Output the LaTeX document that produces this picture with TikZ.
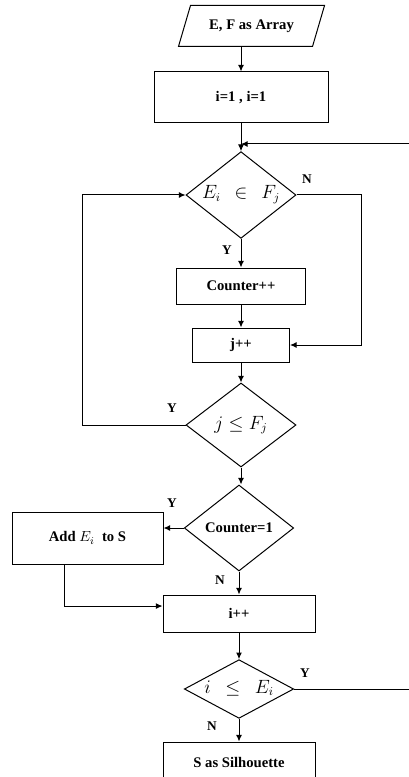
\documentclass[tikz,border=0pt]{standalone}
\usepackage{fontspec}
\setmainfont{Liberation Serif}
\usetikzlibrary{arrows.meta,shapes.geometric,positioning}

\begin{document}
\begin{tikzpicture}[x=0.75pt,y=-0.75pt,>={Latex[length=5pt,width=4.5pt]},line width=0.75pt,
  box/.style={draw,rectangle,inner sep=2pt,font=\fontsize{11}{13}\selectfont\bfseries},
  dec/.style={draw,diamond,inner sep=0pt,text height=8pt,text depth=2pt,font=\fontsize{13.5}{15}\selectfont},
  lbl/.style={inner sep=0pt,font=\fontsize{10}{12}\selectfont\bfseries}]
  \useasboundingbox (0,0) rectangle (409,777);
  \clip (0,0) rectangle (409,777);
  \node[draw,trapezium,trapezium left angle=57,trapezium right angle=123,trapezium stretches=true,minimum width=110pt,minimum height=30.75pt,inner sep=0pt,font=\fontsize{11}{13}\selectfont\bfseries] (input) at (251.5,26) {E, F as Array};
  \node[box,minimum width=130.5pt,minimum height=38.25pt] (init) at (241,97.5) {i=1 , i=1};
  \node[dec,aspect=1.27,minimum width=82.5pt,minimum height=65pt] (d1) at (241,195) {$E_i\;\,\in\;\, F_j$};
  \node[box,minimum width=96.75pt,minimum height=27pt] (cnt) at (241,286) {Counter++};
  \node[box,minimum width=72.75pt,minimum height=25.5pt] (jpp) at (241,345) {j++};
  \node[dec,aspect=1.31,minimum width=82.5pt,minimum height=63pt] (d2) at (241,425) {$j \leq F_j$};
  \node[dec,aspect=1.27,minimum width=82pt,minimum height=64.5pt,font=\fontsize{11}{13}\selectfont\bfseries] (d3) at (239,528) {Counter=1};
  \node[box,minimum width=113.25pt,minimum height=39pt] (add) at (87.5,538) {Add $E_i$~ to S};
  \node[box,minimum width=114pt,minimum height=27.75pt] (ipp) at (239,613.5) {i++};
  \node[dec,aspect=1.86,minimum width=82pt,minimum height=44pt] (d4) at (239,689) {$i\hspace{7pt}\leq\hspace{7pt}E_i$};
  \node[box,minimum width=114pt,minimum height=30pt] (output) at (239,762) {S as Silhouette};
  \node[lbl] (n1) at (307,179) {N};
  \node[lbl] (y1) at (227,250) {Y};
  \node[lbl] (y2) at (172,408) {Y};
  \node[lbl] (y3) at (172,503) {Y};
  \node[lbl] (n2) at (220,580) {N};
  \node[lbl] (y4) at (305,673) {Y};
  \node[lbl] (n3) at (212,726) {N};
  \coordinate (merge) at (241,144);
  \draw[->] (input.south -| init.north) -- (init.north);
  \draw[->] (init) -- (d1);
  \draw[->] (d1) -- (cnt);
  \draw[->] (cnt) -- (jpp);
  \draw[->] (jpp) -- (d2);
  \draw[->] (d2.south) -- (d2.south |- d3.north);
  \draw[->] (d3) -- (ipp);
  \draw[->] (ipp) -- (d4);
  \draw[->] (d4) -- (output);
  \draw[->] (d1.east) -- ++(65,0) |- (jpp.east);
  \draw[->] (d2.west) -- ++(-103,0) |- (d1.west);
  \draw[->] (d3.west) -- (d3.west -| add.east);
  \draw[->] ([xshift=-17.6pt]add.south) |- ([yshift=5.6pt]ipp.west);
  \draw[->] (d4.east) -- ++(190,0) |- (merge);
\end{tikzpicture}
\end{document}
